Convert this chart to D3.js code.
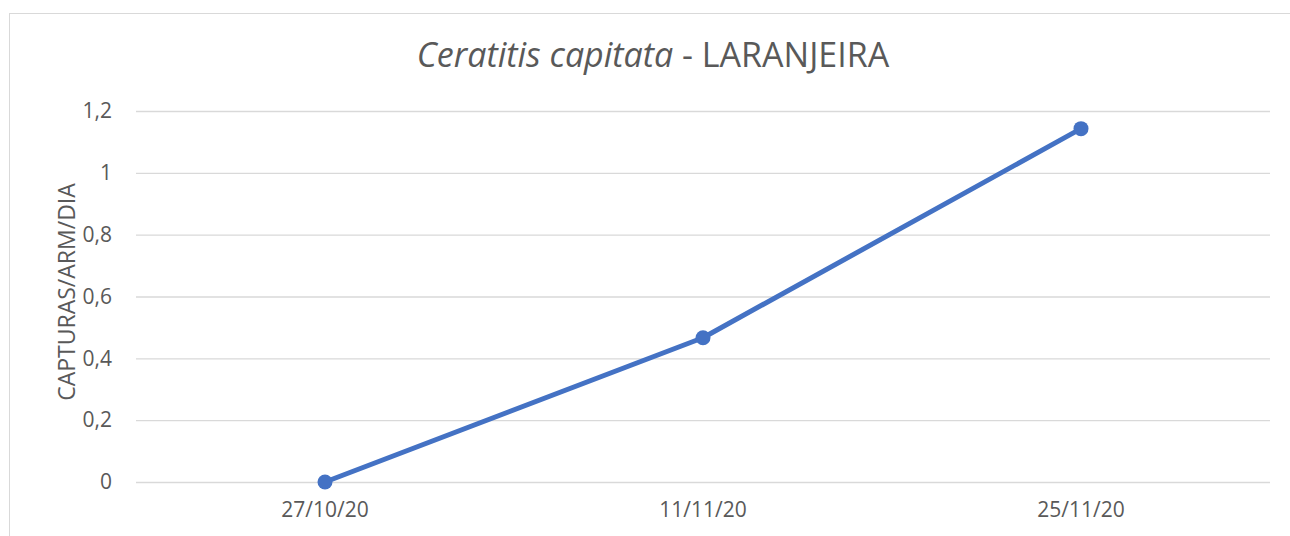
<!DOCTYPE html>
<html>
<head>
<meta charset="utf-8">
<script src="https://cdn.jsdelivr.net/npm/d3@7"></script>
<style>
  body { margin: 0; background: #fff; }
  text { font-family: "Open Sans", sans-serif; fill: #595959; }
</style>
</head>
<body>
<script>
var dates = ["27/10/20", "11/11/20", "25/11/20"];
var capturas = [0, 0.4667, 1.1429];
var yTicks = [0, 0.2, 0.4, 0.6, 0.8, 1, 1.2];

var W = 1290, H = 536;
var margin = {top: 111, right: 20, bottom: 54, left: 136},
    width = W - margin.left - margin.right,
    height = H - margin.top - margin.bottom;

var svg = d3.select("body").append("svg")
    .attr("width", W)
    .attr("height", H);

// chart border
svg.append("rect")
    .attr("x", 9.5).attr("y", 13.5)
    .attr("width", W).attr("height", H)
    .attr("fill", "none")
    .attr("stroke", "#d9d9d9")
    .attr("stroke-width", 1);

var g = svg.append("g")
    .attr("transform", "translate(" + margin.left + "," + margin.top + ")");

var x = d3.scaleBand().domain(dates).range([0, width]).padding(0);
var y = d3.scaleLinear().domain([0, 1.2]).range([height, 0]);

// gridlines
g.append("g")
    .attr("class", "grid")
    .call(d3.axisLeft(y).tickValues(yTicks).tickSize(-width).tickFormat(""))
    .call(function(s) {
      s.select(".domain").remove();
      s.selectAll("line").attr("stroke", "#d9d9d9").attr("stroke-width", 1.3);
    });

// y axis labels
g.append("g")
    .call(d3.axisLeft(y).tickValues(yTicks).tickSize(0).tickPadding(24)
      .tickFormat(function(d) { return String(d).replace(".", ","); }))
    .call(function(s) {
      s.select(".domain").remove();
      s.selectAll("text").attr("font-size", "21px").attr("font-family", "Open Sans").attr("fill", "#595959");
    });

// x axis labels
g.append("g")
    .attr("transform", "translate(0," + height + ")")
    .call(d3.axisBottom(x).tickSize(0).tickPadding(20))
    .call(function(s) {
      s.select(".domain").remove();
      s.selectAll("text").attr("font-size", "21px").attr("font-family", "Open Sans").attr("fill", "#595959");
    });

var line = d3.line()
    .x(function(d, i) { return x(dates[i]) + x.bandwidth() / 2; })
    .y(function(d) { return y(d); });

g.append("path")
    .datum(capturas)
    .attr("fill", "none")
    .attr("stroke", "#4472c4")
    .attr("stroke-width", 5)
    .attr("stroke-linejoin", "round")
    .attr("d", line);

g.selectAll(".dot")
    .data(capturas)
    .enter().append("circle")
    .attr("class", "dot")
    .attr("cx", function(d, i) { return x(dates[i]) + x.bandwidth() / 2; })
    .attr("cy", function(d) { return y(d); })
    .attr("r", 7.5)
    .attr("fill", "#4472c4");

// title
var title = svg.append("text")
    .attr("x", 653)
    .attr("y", 67)
    .attr("text-anchor", "middle")
    .attr("font-size", "34px");
title.append("tspan").attr("font-style", "italic").text("Ceratitis capitata");
title.append("tspan").text(" - LARANJEIRA");

// y axis title
svg.append("text")
    .attr("transform", "translate(75,292) rotate(-90)")
    .attr("text-anchor", "middle")
    .attr("font-size", "23px")
    .text("CAPTURAS/ARM/DIA");
</script>
</body>
</html>
